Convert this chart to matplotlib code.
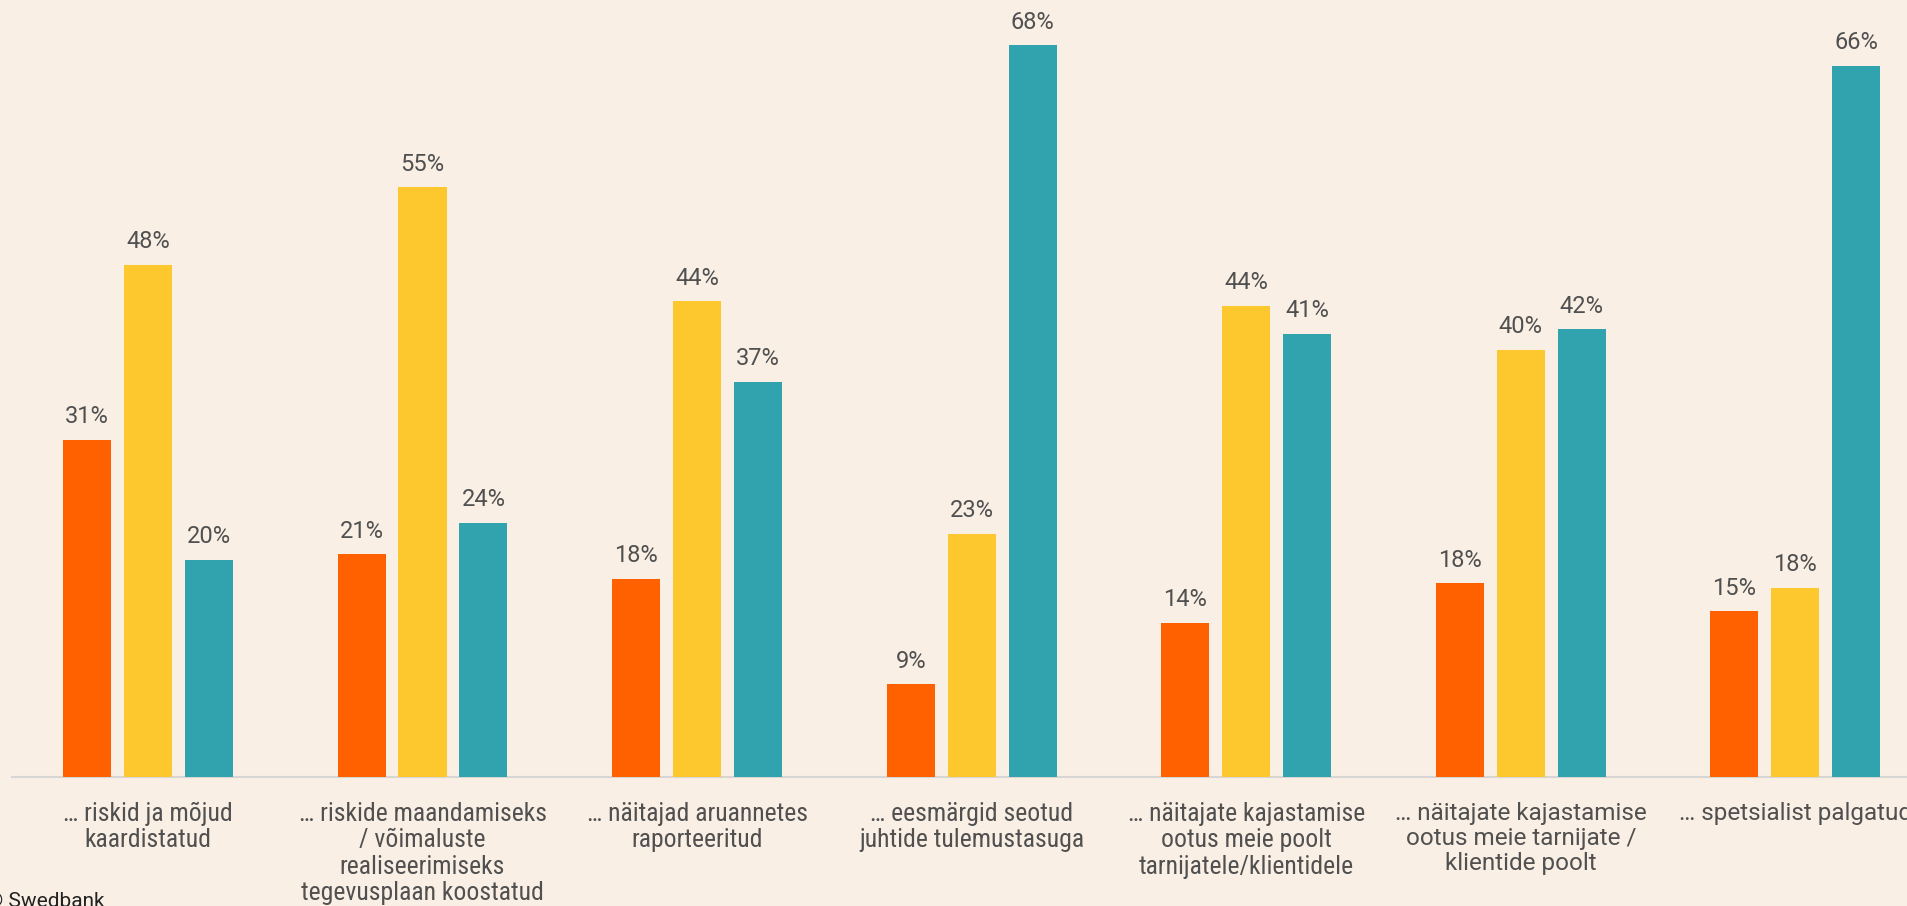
import numpy as np
import matplotlib
matplotlib.use("Agg")
import matplotlib.pyplot as plt

categories = [
    "… riskid ja mõjud\nkaardistatud",
    "… riskide maandamiseks\n/ võimaluste\nrealiseerimiseks\ntegevusplaan koostatud",
    "… näitajad aruannetes\nraporteeritud",
    "… eesmärgid seotud\njuhtide tulemustasuga",
    "… näitajate kajastamise\nootus meie poolt\ntarnijatele/klientidele",
    "… näitajate kajastamise\nootus meie tarnijate /\nklientide poolt",
    "… spetsialist palgatud",
]
series_a = [31.3, 20.7, 18.4, 8.6, 14.3, 18.0, 15.4]
series_b = [47.6, 54.8, 44.2, 22.6, 43.8, 39.7, 17.6]
series_c = [20.2, 23.6, 36.7, 68.0, 41.2, 41.6, 66.1]

bg = "#F9EFE5"
colors = ["#FF6000", "#FDC72E", "#31A3AE"]
text_col = "#505050"

fig = plt.figure(figsize=(19.08, 9.06), dpi=100, facecolor=bg)
ax = fig.add_axes([12 / 1908, 129 / 906, 1 - 12 / 1908, 777 / 906])
ax.set_facecolor(bg)

x = np.arange(len(categories))
step = 0.222
width = 0.175
for k, (vals, col) in enumerate(zip([series_a, series_b, series_c], colors)):
    pos = x + (k - 1) * step
    ax.bar(pos, vals, width=width, color=col, zorder=3)
    for xp, v in zip(pos, vals):
        ax.annotate(f"{round(v)}%", (xp, v), xytext=(0, 12), textcoords="offset points",
                    ha="center", va="baseline", fontsize=17, color=text_col,
                    family=["Roboto", "DejaVu Sans"])

ax.set_xlim(-0.495, 6.41)
ax.set_ylim(0, 72.2)
ax.set_yticks([])
ax.set_xticks(x)
ax.set_xticklabels(categories, fontsize=18.5, color=text_col, linespacing=1.12)
# first five labels are in the condensed face, the last two in the regular one
for i, lbl in enumerate(ax.get_xticklabels()):
    if i < 5:
        lbl.set_family(["Roboto Condensed", "Roboto", "DejaVu Sans"])
    else:
        lbl.set_family(["Roboto", "DejaVu Sans"])
        lbl.set_fontsize(17.5)
ax.tick_params(axis="x", length=0, pad=18)
for s in ["top", "right", "left"]:
    ax.spines[s].set_visible(False)
ax.spines["bottom"].set_color("#D8D6D3")
ax.spines["bottom"].set_linewidth(1.5)

fig.text(-0.007, -0.006, "© Swedbank", fontsize=15, color="#222222",
         family=["Roboto", "DejaVu Sans"], ha="left", va="bottom")

fig.savefig("out.png", dpi=100, facecolor=bg)
